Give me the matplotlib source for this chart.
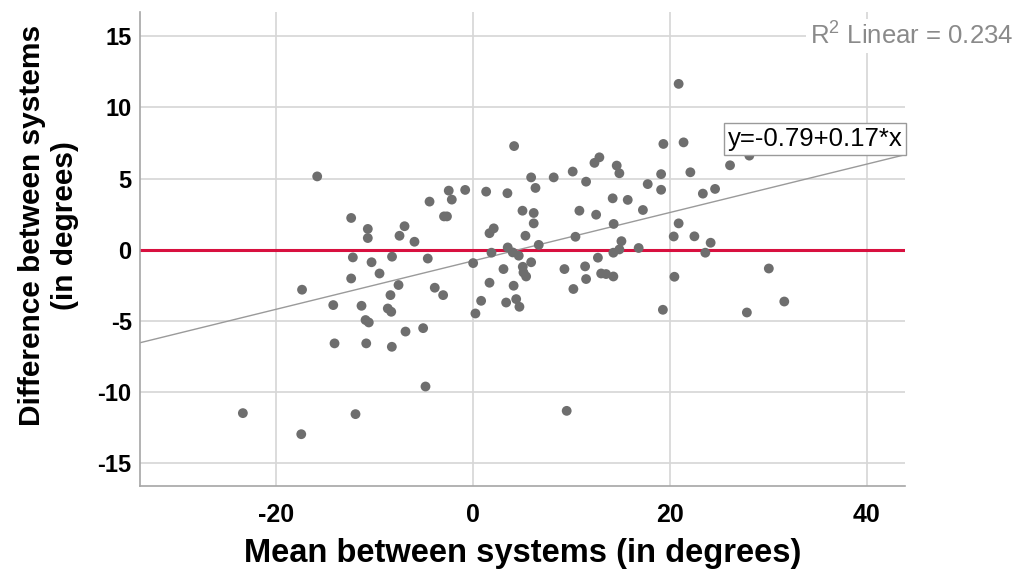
import matplotlib
matplotlib.use("Agg")
import matplotlib.pyplot as plt
import numpy as np

plt.rcParams["font.family"] = ["Liberation Sans", "DejaVu Sans"]
plt.rcParams["mathtext.default"] = "regular"
plt.rcParams["axes.unicode_minus"] = False

# Bland-Altman style data (mean, difference) in degrees
mean_deg = [
    -15.8, -12.35, -10.66, -10.66, -7.44, -6.93, -5.92, -4.39, -2.44, -2.13,
    -2.92, -2.62, -0.77, 1.36, 3.52, 4.20, 5.05, 1.70, 2.13, 5.35,
    5.93, -12.18, -10.28, -8.20, -4.57, 1.90, 3.55, 4.06, 4.67, 6.37,
    8.22, 10.15, 11.51, 12.36, 12.86, 14.62, 14.89, 14.21, 15.74, 17.77,
    19.13, 19.13, 19.36, 21.41, 6.19, 6.19, 10.83, 12.53, 14.31, 17.28,
    10.43, 15.10, 6.70, 20.41, 20.91, 16.85, 14.28, 14.89, 12.71, 5.93,
    20.91, 22.10, 23.37, 24.61, 26.13, 28.09, 22.51, 24.16, 23.62, 30.07,
    31.64, 27.84, 20.48, 19.31, 9.54, 11.41, 9.31, 11.51, 10.22, 13.04,
    13.54, 14.28, 5.08, 5.15, 5.42, 3.12, 4.15, 3.39, 4.41, 4.74,
    -9.47, -12.35, -17.34, -7.54, -8.36, -3.86, -3.01, -14.17, -11.30, -8.63,
    -8.28, -10.89, -10.56, -6.83, -5.04, -14.04, -10.82, -8.22, 0.04, 1.70,
    0.85, 0.27, -23.35, -17.42, -11.91, -4.80,
]
diff_deg = [
    5.15, 2.23, 1.46, 0.82, 0.98, 1.65, 0.56, 3.38, 4.15, 3.52,
    2.34, 2.34, 4.20, 4.08, 3.97, 7.28, 2.74, 1.16, 1.50, 0.98,
    5.08, -0.54, -0.88, -0.49, -0.62, -0.21, 0.16, -0.19, -0.42, 4.34,
    5.08, 5.49, 4.78, 6.10, 6.49, 5.91, 5.37, 3.61, 3.50, 4.61,
    5.31, 4.21, 7.43, 7.54, 2.58, 1.85, 2.74, 2.46, 1.81, 2.79,
    0.91, 0.60, 0.34, 0.93, 1.85, 0.12, -0.21, 0.02, -0.56, -0.88,
    11.65, 5.44, 3.94, 4.27, 5.93, 6.61, 0.94, 0.49, -0.21, -1.32,
    -3.64, -4.41, -1.90, -4.22, -11.32, -1.17, -1.36, -2.06, -2.76, -1.67,
    -1.71, -1.88, -1.20, -1.60, -1.88, -1.36, -2.53, -3.71, -3.47, -4.01,
    -1.67, -2.02, -2.81, -2.48, -3.19, -2.67, -3.19, -3.89, -3.94, -4.13,
    -4.36, -4.94, -5.11, -5.75, -5.51, -6.58, -6.58, -6.82, -0.94, -2.32,
    -3.59, -4.48, -11.48, -12.96, -11.55, -9.61,
]

fit_intercept, fit_slope = -0.79, 0.17
r2_linear = 0.234
x_ticks = [-20, 0, 20, 40]
y_ticks = [-15, -10, -5, 0, 5, 10, 15]

fig = plt.figure(figsize=(10.27, 5.79), dpi=100)
ax = fig.add_axes([0.1363, 0.1606, 0.7449, 0.8187])

xlim = (-33.8, 43.9)
ylim = (-16.6, 16.7)
ax.set_xlim(*xlim)
ax.set_ylim(*ylim)

ax.set_xticks(x_ticks)
ax.set_yticks(y_ticks)
ax.grid(True, color="#d6d6d6", lw=1.2, zorder=0)
ax.set_axisbelow(True)
for side in ("top", "right"):
    ax.spines[side].set_visible(False)
for side in ("left", "bottom"):
    ax.spines[side].set_color("#a6a6a6")
    ax.spines[side].set_linewidth(1.2)
ax.tick_params(length=0)
ax.tick_params(axis="y", pad=6, labelsize=17)
ax.tick_params(axis="x", pad=12, labelsize=18)
for lab in ax.get_xticklabels() + ax.get_yticklabels():
    lab.set_fontweight("bold")

# zero line and fit line
ax.axhline(0, color="#d8103f", lw=2.2, zorder=2)
xs = np.array(xlim)
ax.plot(xs, fit_intercept + fit_slope * xs, color="#9a9a9a", lw=1.0, zorder=2)

ax.scatter(mean_deg, diff_deg, s=50, color="#6e6e6e", edgecolors="none", zorder=3)

ax.text(0.997, 0.732, f"y={fit_intercept:.2f}+{fit_slope:.2f}*x", transform=ax.transAxes,
        ha="right", va="center", fontsize=18.5, color="black", zorder=4,
        bbox=dict(boxstyle="square,pad=0.14", fc="white", ec="#9a9a9a", lw=1.0))

fig.text(0.789, 0.9378, f"R$^{{2}}$ Linear = {r2_linear:.3f}", ha="left", va="center",
         fontsize=18.5, color="#8a8a8a",
         bbox=dict(boxstyle="square,pad=0.15", fc="white", ec="none"))

ax.set_xlabel("Mean between systems (in degrees)", fontsize=23.5, fontweight="bold", labelpad=8)
ax.set_ylabel("Difference between systems\n(in degrees)", fontsize=21.5, fontweight="bold",
              labelpad=10, linespacing=1.2)
ax.yaxis.set_label_coords(-0.08, 0.549)

fig.savefig("out.png", dpi=100)
